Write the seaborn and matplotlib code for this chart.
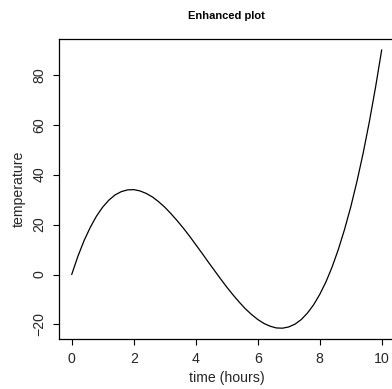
import matplotlib
matplotlib.use("Agg")
import matplotlib.pyplot as plt
import seaborn as sns
import pandas as pd

# values, every 0.2 hours
hours = [0.0, 0.2, 0.4, 0.6, 0.8, 1.0, 1.2, 1.4, 1.6, 1.8,
         2.0, 2.2, 2.4, 2.6, 2.8, 3.0, 3.2, 3.4, 3.6, 3.8,
         4.0, 4.2, 4.4, 4.6, 4.8, 5.0, 5.2, 5.4, 5.6, 5.8,
         6.0, 6.2, 6.4, 6.6, 6.8, 7.0, 7.2, 7.4, 7.6, 7.8,
         8.0, 8.2, 8.4, 8.6, 8.8, 9.0, 9.2, 9.4, 9.6, 9.8, 10.0]
temperature = [0.0, 7.3, 13.6, 18.9, 23.4, 27.0, 29.8, 31.9, 33.2, 33.9,
               34.0, 33.5, 32.5, 31.1, 29.2, 27.0, 24.4, 21.6, 18.6, 15.4,
               12.0, 8.6, 5.1, 1.7, -1.7, -5.0, -8.1, -11.0, -13.7, -16.0,
               -18.0, -19.6, -20.7, -21.4, -21.5, -21.0, -19.9, -18.1, -15.5, -12.2,
               -8.0, -3.0, 3.0, 10.0, 18.0, 27.0, 37.2, 48.5, 61.1, 74.9, 90.0]
x_ticks = [0, 2, 4, 6, 8, 10]
y_ticks = [-20, 0, 20, 40, 60, 80]

df = pd.DataFrame({"time": hours, "temperature": temperature})

sns.set_style("white")
plt.rcParams['font.family'] = ['Liberation Sans', 'DejaVu Sans']

fig = plt.figure(figsize=(3.92, 3.89), dpi=100)
ax = fig.add_axes([59.3 / 392, 49.7 / 389, 334.8 / 392, 300.6 / 389])

sns.lineplot(data=df, x="time", y="temperature", color="black", linewidth=0.9, ax=ax)

ax.set_xlim(-0.4, 10.4)
ax.set_ylim(-25.95, 94.46)
ax.set_xticks(x_ticks)
ax.set_yticks(y_ticks)
ax.set_yticklabels([str(v).replace('-', '\u2212') for v in y_ticks], rotation=90, va='center')

for s in ax.spines.values():
    s.set_visible(True)
    s.set_color("black")
    s.set_linewidth(0.9)

ax.tick_params(axis='both', direction='out', length=4.1, width=0.8, color='black',
               labelsize=10.2, pad=5, left=True, bottom=True)

ax.set_xlabel("time (hours)", fontsize=10.2, va='center')
ax.xaxis.set_label_coords(0.5, (339.3 - 378.3) / 300.6)
ax.set_ylabel("temperature", fontsize=10.2, va='center')
ax.yaxis.set_label_coords((18.3 - 59.3) / 334.8, 0.5)
ax.set_title("Enhanced plot", fontsize=8, fontweight='bold', va='center',
             y=(339.3 - 15.7) / 300.6, pad=0, color='black')

fig.savefig("out.png", dpi=100)
